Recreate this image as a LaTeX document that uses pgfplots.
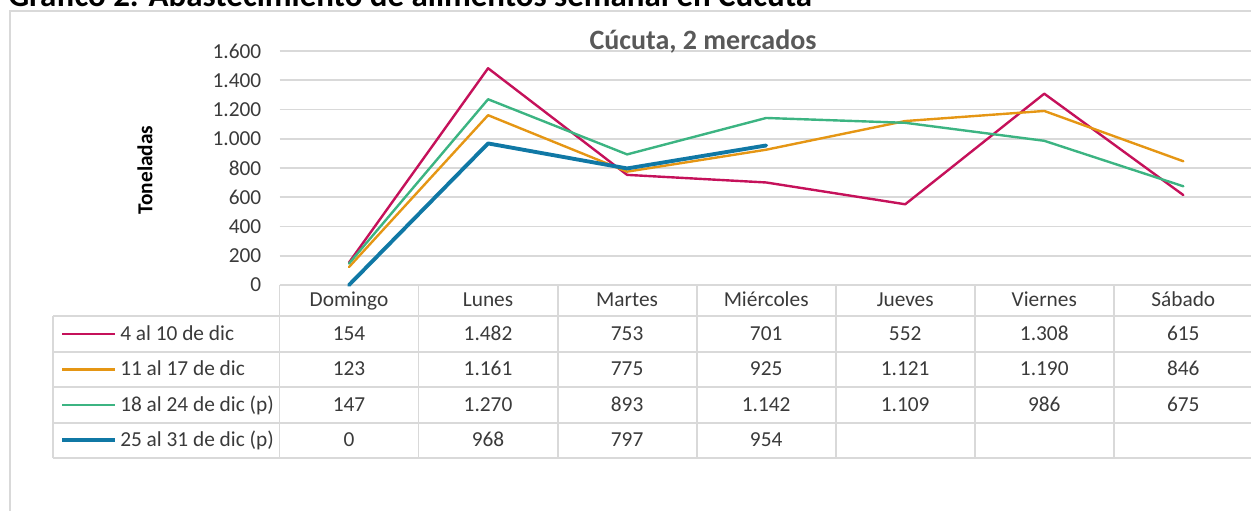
\documentclass[border=0pt]{standalone}
\usepackage{fontspec}
\setmainfont{Carlito}
\usepackage{pgfplots}
\pgfplotsset{compat=1.18}
\definecolor{cA}{RGB}{197,17,90}
\definecolor{cB}{RGB}{229,150,20}
\definecolor{cC}{RGB}{60,180,130}
\definecolor{cD}{RGB}{16,120,165}
\definecolor{gridgray}{HTML}{D9D9D9}
\definecolor{txt}{HTML}{3A3A3A}
\definecolor{ttl}{HTML}{595959}
\begin{document}
\begin{tikzpicture}[x=0.75pt,y=0.75pt]
\path[use as bounding box] (0,0) rectangle (1251,510);
% outer chart border
\draw[gridgray, line width=1.2pt] (10,-5) -- (10,499) -- (1260,499);
% cut main title
\node[anchor=base west, inner sep=0pt, font=\fontsize{24.7}{29}\selectfont\bfseries] at (8,503) {Gráfico 2. Abastecimiento de alimentos semanal en Cúcuta};
\begin{axis}[
  at={(209.625pt,168.75pt)}, anchor=south west,
  scale only axis, width=730pt, height=175.5pt,
  xmin=-0.5, xmax=6.5, ymin=0, ymax=1600,
  xtick=\empty, ytick={0,200,...,1600},
  axis line style={draw=none}, major tick length=0pt,
  ymajorgrids, grid style={gridgray, line width=1.4pt},
  /pgf/number format/assume math mode=true,
  /pgf/number format/1000 sep={.},
  yticklabel style={font=\fontsize{16}{19}\selectfont, text=txt, inner sep=0pt, xshift=-13.5pt},
  clip=false,
]
\addplot[cA, line width=1.8pt, line join=round, line cap=round] coordinates {(0,154) (1,1482) (2,753) (3,701) (4,552) (5,1308) (6,615)};
\addplot[cB, line width=1.8pt, line join=round, line cap=round] coordinates {(0,123) (1,1161) (2,775) (3,925) (4,1121) (5,1190) (6,846)};
\addplot[cC, line width=1.8pt, line join=round, line cap=round] coordinates {(0,147) (1,1270) (2,893) (3,1142) (4,1109) (5,986) (6,675)};
\addplot[cD, line width=2.9pt, line join=round, line cap=round] coordinates {(0,0) (1,968) (2,797) (3,954)};
\end{axis}
% chart title
\node[anchor=base, inner sep=0pt, text=ttl, font=\fontsize{21}{25}\selectfont\bfseries] at (703,460) {Cúcuta, 2 mercados};
% y label
\node[rotate=90, anchor=center, inner sep=0pt, font=\fontsize{16}{19}\selectfont\bfseries] at (145,340) {Toneladas};
% table grid
\begin{scope}[gridgray, line width=1.4pt]
\draw (279.5,194) -- (279.5,225);
\foreach \x in {418.55,557.6,696.65,835.7,974.75,1113.8} \draw (\x,225) -- (\x,52.3);
\draw (53.3,194) -- (53.3,52.3);
\draw (279.5,194) -- (279.5,52.3);
\foreach \y in {194,158.3,122.7,87.3,52.3} \draw (53.3,\y) -- (1260,\y);
\end{scope}
% header
\foreach \t [count=\i from 0] in {Domingo,Lunes,Martes,Miércoles,Jueves,Viernes,Sábado}
  \node[anchor=base, inner sep=0pt, text=txt, font=\fontsize{16}{19}\selectfont] at ({349+139.05*\i},203) {\t};
% legend column
\draw[cA, line width=1.8pt] (62,176) -- (115,176);
\draw[cB, line width=1.8pt] (62,140.5) -- (115,140.5);
\draw[cC, line width=1.8pt] (62,105) -- (115,105);
\draw[cD, line width=2.9pt] (62,69.8) -- (115,69.8);
\node[anchor=base west, inner sep=0pt, text=txt, font=\fontsize{16}{19}\selectfont] at (120,169.5) {4 al 10 de dic};
\node[anchor=base west, inner sep=0pt, text=txt, font=\fontsize{16}{19}\selectfont] at (120,134) {11 al 17 de dic};
\node[anchor=base west, inner sep=0pt, text=txt, font=\fontsize{16}{19}\selectfont] at (120,98.5) {18 al 24 de dic (p)};
\node[anchor=base west, inner sep=0pt, text=txt, font=\fontsize{16}{19}\selectfont] at (120,63.3) {25 al 31 de dic (p)};
% values
\foreach \t [count=\i from 0] in {154,1.482,753,701,552,1.308,615}
  \node[anchor=base, inner sep=0pt, text=txt, font=\fontsize{16}{19}\selectfont] at ({349+139.05*\i},169.5) {\t};
\foreach \t [count=\i from 0] in {123,1.161,775,925,1.121,1.190,846}
  \node[anchor=base, inner sep=0pt, text=txt, font=\fontsize{16}{19}\selectfont] at ({349+139.05*\i},134) {\t};
\foreach \t [count=\i from 0] in {147,1.270,893,1.142,1.109,986,675}
  \node[anchor=base, inner sep=0pt, text=txt, font=\fontsize{16}{19}\selectfont] at ({349+139.05*\i},98.5) {\t};
\foreach \t [count=\i from 0] in {0,968,797,954}
  \node[anchor=base, inner sep=0pt, text=txt, font=\fontsize{16}{19}\selectfont] at ({349+139.05*\i},63.3) {\t};
\end{tikzpicture}
\end{document}
